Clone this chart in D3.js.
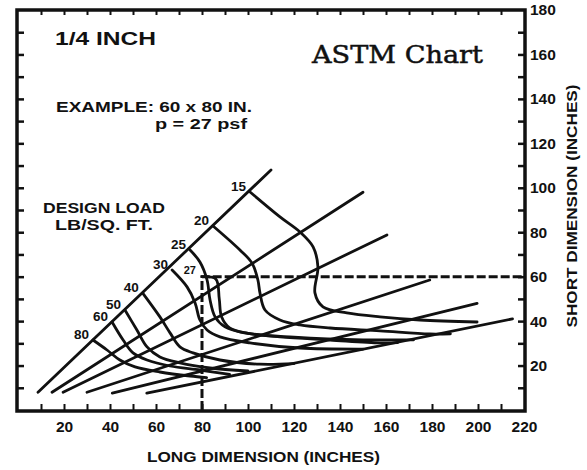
<!DOCTYPE html>
<html>
<head>
<meta charset="utf-8">
<script src="https://cdn.jsdelivr.net/npm/d3@7"></script>
<style>
  body { margin: 0; background: #fff; }
  svg { display: block; }
  .lbl { font-family: "Liberation Sans", Arial, sans-serif; font-weight: bold; fill: #111; }
  .axis text { font-family: "Liberation Sans", Arial, sans-serif; font-weight: bold; font-size: 15.5px; fill: #111; }
  .axis path, .axis line { stroke: #111; }
</style>
</head>
<body>
<div id="chart"></div>
<script>
// tick labels
var xTicks = [20, 40, 60, 80, 100, 120, 140, 160, 180, 200, 220];
var yTicks = [20, 40, 60, 80, 100, 120, 140, 160, 180];

// aspect ratio lines (long, short)
var ray1 = [[8.7, 8], [110, 108]];
var ray2 = [[14.8, 8], [150, 98]];
var ray3 = [[19.6, 8], [160.4, 78.8]];
var ray4 = [[30, 8], [179, 58.5]];
var ray5 = [[41, 7.6], [199.6, 48]];
var ray6 = [[56, 7.6], [215, 41]];
var rays = [ray1, ray2, ray3, ray4, ray5, ray6];

// design load curves (psf) -> points (long, short)
var loads = [15, 20, 25, 27, 30, 40, 50, 60, 80];
var load15 = [[100.9, 98.1], [113.9, 86.9], [122.6, 80.1], [128.3, 73.4], [130.4, 64.4], [129.1, 52.7], [132.6, 46.4], [143, 43.7], [157.4, 41.9], [174.8, 40.5], [199.6, 39.6]];
var load20 = [[84.8, 82.8], [96.5, 72], [101.7, 66.2], [104.3, 58.5], [105.2, 52.7], [107.4, 45], [113.9, 40.5], [122.6, 38.3], [135.7, 36.9], [157.4, 35.6], [179, 34.2], [188, 34.3]];
var load25 = [[74.8, 72], [79.1, 66.6], [82.2, 58.5], [83.5, 49.5], [85.7, 41.9], [90, 37.4], [98.7, 34.7], [113.9, 32.9], [135.7, 31.5], [157.4, 30.2], [165, 30.3]];
var load27 = [[80, 60], [86, 59], [87.5, 50], [88.5, 42], [92, 37], [100, 34.5], [120, 32.8], [150, 31.6], [172, 31.6]];
var load30 = [[67, 63], [73.5, 55.4], [77, 48.2], [79.1, 40.5], [82.2, 36], [87.8, 32.9], [100.9, 30.2], [122.6, 27.9], [150, 27.4]];
var load40 = [[54.3, 52.5], [61.7, 41.9], [66.1, 34.7], [70.4, 28.4], [76.1, 25.7], [87.8, 22.5], [105.2, 20.6], [120, 20.9]];
var load50 = [[46.5, 45], [51.7, 36], [56.1, 28.4], [61.7, 23.9], [70.4, 21.2], [83.5, 18.9], [100, 17.6]];
var load60 = [[40.9, 39.6], [45.7, 31.5], [50, 25.7], [56.1, 22.5], [66.1, 19.8], [79.1, 18], [92, 16]];
var load80 = [[32.6, 31.5], [38.7, 27], [44.3, 22.5], [50.9, 19.4], [61.7, 17.1], [74.8, 15.3], [82, 14.6]];
var loadCurves = [load15, load20, load25, load27, load30, load40, load50, load60, load80];

// example: 60 x 80 in. -> 27 psf
var example = [80, 60];

var W = 587, H = 470;
var x = d3.scaleLinear().domain([0, 220]).range([18, 524]);
var y = d3.scaleLinear().domain([0, 180]).range([410, 10]);

var svg = d3.select("#chart").append("svg")
    .attr("width", W)
    .attr("height", H);

svg.append("rect").attr("width", W).attr("height", H).attr("fill", "#fff");

// ticks on all four sides, pointing inward
var minor = d3.range(10, 220, 10);
var minorY = d3.range(10, 180, 10);

svg.append("g")
    .attr("class", "axis")
    .attr("transform", "translate(0," + y(0) + ")")
    .call(d3.axisBottom(x).tickValues(minor).tickSizeInner(-6).tickSizeOuter(0).tickFormat(""))
    .call(function(g) { g.select(".domain").remove(); g.selectAll("line").attr("stroke-width", 2); });
svg.append("g")
    .attr("class", "axis")
    .attr("transform", "translate(0," + y(180) + ")")
    .call(d3.axisTop(x).tickValues(minor).tickSizeInner(-5).tickSizeOuter(0).tickFormat(""))
    .call(function(g) { g.select(".domain").remove(); g.selectAll("line").attr("stroke-width", 2); });
svg.append("g")
    .attr("class", "axis")
    .attr("transform", "translate(" + x(0) + ",0)")
    .call(d3.axisLeft(y).tickValues(minorY).tickSizeInner(-6).tickSizeOuter(0).tickFormat(""))
    .call(function(g) { g.select(".domain").remove(); g.selectAll("line").attr("stroke-width", 2.5); });
svg.append("g")
    .attr("class", "axis")
    .attr("transform", "translate(" + x(220) + ",0)")
    .call(d3.axisRight(y).tickValues(minorY).tickSizeInner(-6).tickSizeOuter(0).tickFormat(""))
    .call(function(g) { g.select(".domain").remove(); g.selectAll("line").attr("stroke-width", 2.5); });

// labelled axes
svg.append("g")
    .attr("class", "axis")
    .attr("transform", "translate(0," + (y(0) + 2) + ")")
    .call(d3.axisBottom(x).tickValues(xTicks).tickSize(0).tickPadding(9))
    .call(function(g) { g.select(".domain").remove(); });
svg.append("g")
    .attr("class", "axis")
    .attr("transform", "translate(" + (x(220) + 1) + ",0)")
    .call(d3.axisRight(y).tickValues(yTicks).tickSize(0).tickPadding(5))
    .call(function(g) { g.select(".domain").remove(); });

// frame
svg.append("rect")
    .attr("x", x(0) - 1)
    .attr("y", y(180))
    .attr("width", x(220) - x(0) + 2)
    .attr("height", y(0) - y(180) + 1)
    .attr("fill", "none")
    .attr("stroke", "#111")
    .attr("stroke-width", 3.5);

var line = d3.line()
    .x(function(d) { return x(d[0]); })
    .y(function(d) { return y(d[1]); });
var smooth = d3.line()
    .x(function(d) { return x(d[0]); })
    .y(function(d) { return y(d[1]); })
    .curve(d3.curveCatmullRom.alpha(0.5));

// example dashed lines
svg.append("path")
    .attr("d", line([[example[0], 0], example, [220, example[1]]]))
    .attr("fill", "none")
    .attr("stroke", "#111")
    .attr("stroke-width", 3)
    .attr("stroke-dasharray", "9,3");

// aspect ratio lines
svg.selectAll(".ray")
    .data(rays)
    .enter().append("path")
    .attr("class", "ray")
    .attr("d", line)
    .attr("fill", "none")
    .attr("stroke", "#111")
    .attr("stroke-width", 2.8)
    .attr("stroke-linecap", "round");

// load curves
svg.selectAll(".load")
    .data(loadCurves)
    .enter().append("path")
    .attr("class", "load")
    .attr("d", smooth)
    .attr("fill", "none")
    .attr("stroke", "#111")
    .attr("stroke-width", 2.8)
    .attr("stroke-linecap", "round");

// load labels at start of each curve
svg.selectAll(".loadlbl")
    .data(loads)
    .enter().append("text")
    .attr("class", "lbl")
    .attr("x", function(d, i) { return x(loadCurves[i][0][0]) - (d === 27 ? 6 : 4); })
    .attr("y", function(d, i) { return y(loadCurves[i][0][1]) - (d === 27 ? 3 : 1); })
    .attr("text-anchor", "end")
    .attr("font-size", function(d) { return d === 27 ? 11 : 13.5; })
    .text(function(d) { return d; });

// texts
function txt(s, xx, yy, size, len, anchor) {
    return svg.append("text").attr("class", "lbl")
        .attr("x", xx).attr("y", yy)
        .attr("font-size", size)
        .attr("text-anchor", anchor || "start")
        .attr("textLength", len).attr("lengthAdjust", "spacingAndGlyphs")
        .text(s);
}
txt("1/4 INCH", 55, 45, 18, 101);
txt("EXAMPLE: 60 x 80 IN.", 56, 112, 14.5, 196);
txt("p = 27 psf", 155, 129, 14.5, 92);
txt("DESIGN LOAD", 43, 213, 15.5, 122);
txt("LB/SQ. FT.", 55, 230, 15.5, 98);
txt("LONG DIMENSION (INCHES)", 147, 462, 15, 233);

svg.append("text").attr("x", 312).attr("y", 63)
    .attr("font-family", "'DejaVu Serif', 'Liberation Serif', serif")
    .attr("font-size", 25).attr("fill", "#111")
    .attr("stroke", "#111").attr("stroke-width", 0.5)
    .attr("textLength", 171).attr("lengthAdjust", "spacingAndGlyphs")
    .text("ASTM Chart");

svg.append("text").attr("class", "lbl")
    .attr("transform", "translate(577,206) rotate(-90)")
    .attr("text-anchor", "middle").attr("font-size", 15)
    .attr("textLength", 243).attr("lengthAdjust", "spacingAndGlyphs")
    .text("SHORT DIMENSION (INCHES)");
</script>
</body>
</html>
